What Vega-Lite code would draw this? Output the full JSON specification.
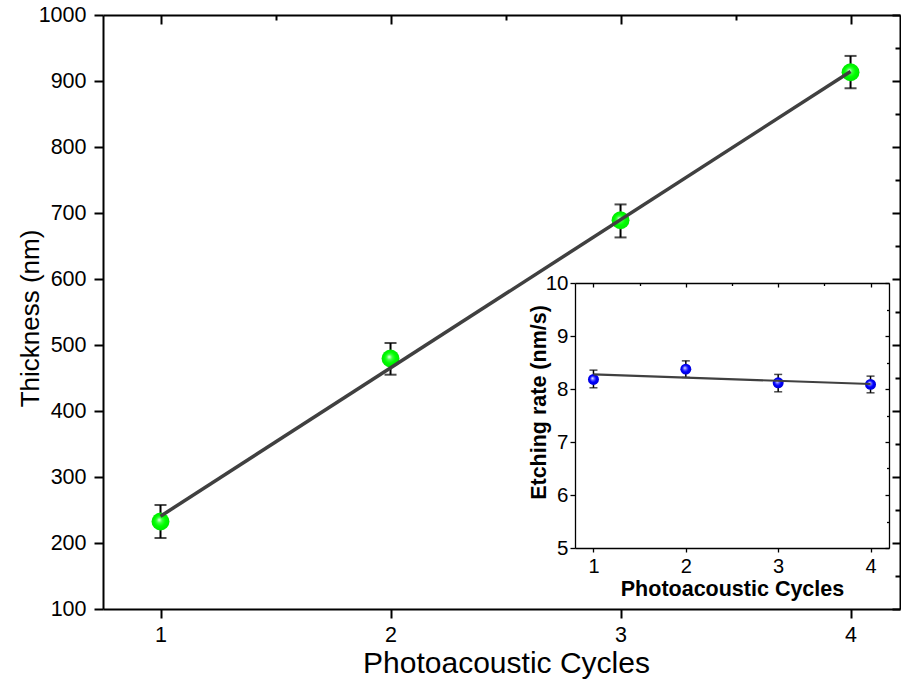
{
  "$schema": "https://vega.github.io/schema/vega-lite/v6.json",
  "width": 797,
  "height": 594,
  "autosize": {"type": "none"},
  "padding": {"left": 103, "top": 15, "right": 1, "bottom": 70},
  "background": "white",
  "config": {
    "font": "Liberation Sans",
    "view": {"stroke": null},
    "axis": {"grid": false, "domainColor": "black", "tickColor": "black", "labelColor": "black", "titleColor": "black", "labelFlush": false, "labelOverlap": false}
  },
  "datasets": {
    "main": [
      {"x": 1, "y": 232.6, "lo": 207.6, "hi": 257.6},
      {"x": 2, "y": 479.5, "lo": 455, "hi": 503},
      {"x": 3, "y": 689, "lo": 663, "hi": 713},
      {"x": 4, "y": 913.3, "lo": 889, "hi": 938}
    ],
    "mainFit": [
      {"x": 1, "y": 240.6},
      {"x": 4, "y": 914.5}
    ],
    "inset": [
      {"x": 1, "y": 8.18, "lo": 8.023, "hi": 8.356},
      {"x": 2, "y": 8.375, "lo": 8.218, "hi": 8.531},
      {"x": 3, "y": 8.117, "lo": 7.947, "hi": 8.275},
      {"x": 4, "y": 8.087, "lo": 7.928, "hi": 8.243}
    ],
    "insetFit": [
      {"x": 1, "y": 8.275},
      {"x": 4, "y": 8.094}
    ]
  },
  "layer": [
    {
      "layer": [
        {
          "layer": [
            {
              "data": {"name": "main"},
              "mark": {"type": "rule", "color": "black", "strokeWidth": 2},
              "encoding": {
                "x": {"field": "x", "type": "quantitative", "scale": {"domain": [0.75, 4.215], "nice": false, "zero": false},
                  "axis": {"orient": "bottom", "values": [1, 1.5, 2, 2.5, 3, 3.5, 4], "format": "d",
                    "tickSize": {"condition": {"test": "datum.value % 1 != 0", "value": 5}, "value": 9},
                    "labelExpr": "datum.value % 1 ? '' : datum.label",
                    "labelFontSize": 21.5, "labelPadding": 6, "domainWidth": 2, "tickWidth": 2,
                    "title": "Photoacoustic Cycles", "titleFontSize": 30, "titleFontWeight": "normal", "titlePadding": 3, "titleX": 403}},
                "y": {"field": "lo", "type": "quantitative", "scale": {"domain": [100, 1000], "nice": false, "zero": false},
                  "axis": {"orient": "left", "values": [100, 150, 200, 250, 300, 350, 400, 450, 500, 550, 600, 650, 700, 750, 800, 850, 900, 950, 1000], "format": "d",
                    "tickSize": {"condition": {"test": "datum.value % 100 != 0", "value": 5}, "value": 9},
                    "labelExpr": "datum.value % 100 ? '' : datum.label",
                    "labelFontSize": 21.5, "labelPadding": 8, "domainWidth": 2, "tickWidth": 2,
                    "title": "Thickness (nm)", "titleFontSize": 26, "titleFontWeight": "normal", "titleX": -60, "titleY": 303}},
                "y2": {"field": "hi"}
              }
            },
            {
              "data": {"name": "main"},
              "mark": {"type": "tick", "orient": "horizontal", "color": "black", "size": 12, "thickness": 2},
              "encoding": {
                "x": {"field": "x", "type": "quantitative"},
                "y": {"field": "lo", "type": "quantitative"}
              }
            },
            {
              "data": {"name": "main"},
              "mark": {"type": "tick", "orient": "horizontal", "color": "black", "size": 12, "thickness": 2},
              "encoding": {
                "x": {"field": "x", "type": "quantitative"},
                "y": {"field": "hi", "type": "quantitative"}
              }
            },
            {
              "data": {"name": "main"},
              "mark": {"type": "point", "filled": true, "size": 320, "opacity": 1, "strokeWidth": 0,
                "fill": {"gradient": "radial", "x1": 0.42, "y1": 0.4, "r1": 0, "x2": 0.5, "y2": 0.5, "r2": 0.5,
                  "stops": [{"offset": 0, "color": "#f4fff4"}, {"offset": 0.3, "color": "#40ff40"}, {"offset": 0.6, "color": "#00ff00"}, {"offset": 1, "color": "#00e800"}]}},
              "encoding": {
                "x": {"field": "x", "type": "quantitative"},
                "y": {"field": "y", "type": "quantitative"}
              }
            },
            {
              "data": {"name": "mainFit"},
              "mark": {"type": "line", "color": "#404040", "strokeWidth": 3.5},
              "encoding": {
                "x": {"field": "x", "type": "quantitative"},
                "y": {"field": "y", "type": "quantitative"}
              }
            }
          ]
        },
        {
          "data": {"name": "main"},
          "mark": {"type": "point", "opacity": 0},
          "encoding": {
            "x": {"field": "x", "type": "quantitative",
              "axis": {"orient": "top", "values": [1, 1.5, 2, 2.5, 3, 3.5, 4], "labels": false, "title": null,
                "tickSize": {"condition": {"test": "datum.value % 1 != 0", "value": -5}, "value": -9},
                "domainWidth": 2, "tickWidth": 2}},
            "y": {"field": "y", "type": "quantitative",
              "axis": {"orient": "right", "values": [100, 150, 200, 250, 300, 350, 400, 450, 500, 550, 600, 650, 700, 750, 800, 850, 900, 950, 1000], "labels": false, "title": null,
                "tickSize": {"condition": {"test": "datum.value % 100 != 0", "value": -5}, "value": -8},
                "domainWidth": 2, "tickWidth": 2}}
          }
        }
      ],
      "resolve": {"axis": {"x": "independent", "y": "independent"}}
    },
    {
      "layer": [
        {
          "layer": [
            {
              "data": {"name": "inset"},
              "mark": {"type": "rule", "color": "black", "strokeWidth": 1.5},
              "encoding": {
                "x": {"field": "x", "type": "quantitative", "scale": {"domain": [0.8, 4.2], "range": [472, 786], "nice": false, "zero": false},
                  "axis": {"orient": "bottom", "offset": -61, "values": [1, 1.5, 2, 2.5, 3, 3.5, 4], "format": "d",
                    "tickSize": {"condition": {"test": "datum.value % 1 != 0", "value": 2.5}, "value": 4},
                    "labelExpr": "datum.value % 1 ? '' : datum.label",
                    "labelFontSize": 20, "labelPadding": 4, "domainWidth": 1.3, "tickWidth": 1.3,
                    "title": "Photoacoustic Cycles", "titleFontSize": 21.5, "titleFontWeight": "bold", "titlePadding": 2}},
                "y": {"field": "lo", "type": "quantitative", "scale": {"domain": [5, 10], "range": [533, 268], "nice": false, "zero": false},
                  "axis": {"orient": "left", "offset": -472, "values": [5, 5.5, 6, 6.5, 7, 7.5, 8, 8.5, 9, 9.5, 10], "format": "d",
                    "tickSize": {"condition": {"test": "datum.value % 1 != 0", "value": 2.5}, "value": 5},
                    "labelExpr": "datum.value % 1 ? '' : datum.label",
                    "labelFontSize": 20.5, "labelPadding": 2, "domainWidth": 1.3, "tickWidth": 1.3,
                    "title": "Etching rate (nm/s)", "titleFontSize": 21.5, "titleFontWeight": "bold", "titleX": -25, "titleY": 387}},
                "y2": {"field": "hi"}
              }
            },
            {
              "data": {"name": "inset"},
              "mark": {"type": "tick", "orient": "horizontal", "color": "black", "size": 8, "thickness": 1.5},
              "encoding": {
                "x": {"field": "x", "type": "quantitative"},
                "y": {"field": "lo", "type": "quantitative"}
              }
            },
            {
              "data": {"name": "inset"},
              "mark": {"type": "tick", "orient": "horizontal", "color": "black", "size": 8, "thickness": 1.5},
              "encoding": {
                "x": {"field": "x", "type": "quantitative"},
                "y": {"field": "hi", "type": "quantitative"}
              }
            },
            {
              "data": {"name": "inset"},
              "mark": {"type": "point", "filled": true, "size": 120, "opacity": 1, "strokeWidth": 0,
                "fill": {"gradient": "radial", "x1": 0.4, "y1": 0.38, "r1": 0, "x2": 0.5, "y2": 0.5, "r2": 0.5,
                  "stops": [{"offset": 0, "color": "#f0f0ff"}, {"offset": 0.35, "color": "#5050ff"}, {"offset": 0.6, "color": "#0000ff"}, {"offset": 1, "color": "#0000d8"}]}},
              "encoding": {
                "x": {"field": "x", "type": "quantitative"},
                "y": {"field": "y", "type": "quantitative"}
              }
            },
            {
              "data": {"name": "insetFit"},
              "mark": {"type": "line", "color": "#404040", "strokeWidth": 2.2},
              "encoding": {
                "x": {"field": "x", "type": "quantitative"},
                "y": {"field": "y", "type": "quantitative"}
              }
            }
          ]
        },
        {
          "data": {"name": "inset"},
          "mark": {"type": "point", "opacity": 0},
          "encoding": {
            "x": {"field": "x", "type": "quantitative",
              "axis": {"orient": "top", "offset": -268, "values": [1, 1.5, 2, 2.5, 3, 3.5, 4], "labels": false, "title": null,
                "tickSize": {"condition": {"test": "datum.value % 1 != 0", "value": -2.5}, "value": -4},
                "domainWidth": 1.3, "tickWidth": 1.3}},
            "y": {"field": "y", "type": "quantitative",
              "axis": {"orient": "right", "offset": -11, "values": [5, 5.5, 6, 6.5, 7, 7.5, 8, 8.5, 9, 9.5, 10], "labels": false, "title": null,
                "tickSize": {"condition": {"test": "datum.value % 1 != 0", "value": -2.5}, "value": -4},
                "domainWidth": 1.3, "tickWidth": 1.3}}
          }
        }
      ],
      "resolve": {"axis": {"x": "independent", "y": "independent"}}
    }
  ],
  "resolve": {"scale": {"x": "independent", "y": "independent"}}
}
